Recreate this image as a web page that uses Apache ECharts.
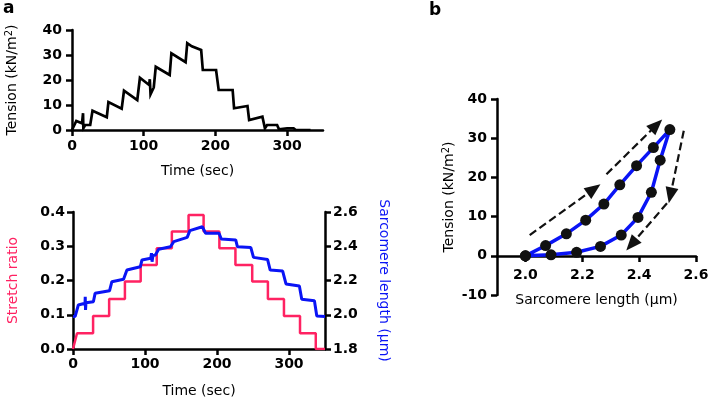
<!DOCTYPE html>
<html>
<head>
<meta charset="utf-8">
<script src="https://cdn.jsdelivr.net/npm/echarts@6/dist/echarts.min.js"></script>
<style>
  html, body { margin: 0; padding: 0; background: #fff; }
  #chart { width: 722px; height: 405px; }
</style>
</head>
<body>
<div id="chart"></div>
<script>
// panel a, top: tension trace
var tensionTime = [0, 2, 6, 14, 15.4, 15.8, 18.4, 25.4, 28.6, 48.5, 50.8, 69.3, 72.5, 91, 94.7, 107.6, 108.5, 109.5, 114, 116.8, 136.2, 138.6, 158.4, 160.7, 167, 180.1, 182.4, 200.9, 204.5, 224, 226, 244.7, 247, 265.5, 269, 272, 286, 288.6, 300, 309, 312, 332.6];
var tensionValue = [0, 0, 3.6, 2.7, 6.7, 0.7, 2, 2, 7.7, 5.1, 11.2, 8.5, 15.7, 12, 20.9, 18, 20.3, 14.3, 17, 25.3, 22, 30.7, 27.1, 34.7, 33.5, 32, 24, 24, 16, 16, 8.7, 9.6, 4, 5.3, 0.7, 2, 2, 0.3, 0.7, 0.7, 0, 0];

// panel a, bottom: stretch ratio (left axis)
var stretchTime = [0, 5.6, 27.9, 27.9, 50.2, 50.2, 72.1, 72.1, 94, 94, 116.3, 116.3, 137.3, 137.3, 160.5, 160.5, 181.4, 181.4, 203.3, 203.3, 225.6, 225.6, 248.9, 248.9, 270.7, 270.7, 293, 293, 315.3, 315.3, 337.2, 337.2, 350];
var stretchValue = [0, 0.046, 0.046, 0.096, 0.096, 0.146, 0.146, 0.197, 0.197, 0.245, 0.245, 0.294, 0.294, 0.343, 0.343, 0.391, 0.391, 0.343, 0.343, 0.294, 0.294, 0.245, 0.245, 0.197, 0.197, 0.146, 0.146, 0.096, 0.096, 0.046, 0.046, 0, 0];

// panel a, bottom: sarcomere length (right axis)
var sarcTime = [0, 3, 7.4, 16.7, 17, 17.4, 18, 28.3, 30.7, 50.7, 54, 70.2, 74.9, 93.5, 95.8, 108, 109, 109.8, 111, 114.4, 119, 135.3, 140, 158.6, 162.3, 179.6, 184.2, 202.8, 206, 226, 228.4, 247, 250.7, 270.2, 273.9, 291.2, 295.8, 314.4, 317.7, 335.3, 338.6, 350];
var sarcLength = [1.99, 1.99, 2.057, 2.067, 2.105, 2.028, 2.07, 2.076, 2.125, 2.14, 2.193, 2.207, 2.261, 2.28, 2.32, 2.33, 2.36, 2.31, 2.345, 2.349, 2.382, 2.397, 2.427, 2.452, 2.491, 2.514, 2.476, 2.476, 2.442, 2.437, 2.397, 2.392, 2.335, 2.323, 2.261, 2.255, 2.18, 2.168, 2.09, 2.082, 1.993, 1.99];

// panel b: tension vs sarcomere length loop
var loopLength = [2.0, 2.071, 2.144, 2.212, 2.276, 2.332, 2.391, 2.45, 2.508, 2.474, 2.443, 2.396, 2.337, 2.264, 2.18, 2.09, 2.0];
var loopTension = [0, 2.6, 5.6, 9.1, 13.2, 18.1, 23.0, 27.6, 32.2, 24.4, 16.2, 9.8, 5.3, 2.4, 0.9, 0.25, 0];

// panel b: dashed direction arrows (start / head centre in data units)
var arrowFrom = [[2.015, 5.3], [2.285, 20.8], [2.557, 31.9], [2.498, 13.4]];
var arrowTo = [[2.241, 17.05], [2.461, 33.36], [2.51, 15.39], [2.373, 2.89]];

var timeTicks = [0, 100, 200, 300];
var lengthTicks = [2.0, 2.2, 2.4, 2.6];

function zip(a, b) {
  return a.map(function (v, i) { return [v, b[i]]; });
}

var FONT = 'DejaVu Sans';
var PINK = '#ff2262';
var BLUE = '#0a14f5';

function baseAxis(extra) {
  var ax = {
    type: 'value',
    splitLine: { show: false },
    axisLine: { show: true, onZero: false, lineStyle: { color: '#000', width: 2.5 } },
    axisTick: { show: true, length: 6, lineStyle: { color: '#000', width: 2.5 } },
    axisLabel: { color: '#000', fontSize: 14, fontWeight: 'bold', fontFamily: FONT, margin: 10 },
    nameLocation: 'middle',
    nameTextStyle: { color: '#000', fontSize: 14, fontFamily: FONT }
  };
  for (var k in extra) {
    if (typeof extra[k] === 'object' && !Array.isArray(extra[k]) && ax[k]) {
      for (var j in extra[k]) ax[k][j] = extra[k][j];
    } else {
      ax[k] = extra[k];
    }
  }
  return ax;
}

var tensionRich = {
  n: { fontSize: 14, fontFamily: FONT, color: '#000', lineHeight: 16 },
  s: { fontSize: 10, fontFamily: FONT, color: '#000', verticalAlign: 'top', lineHeight: 10 }
};
var tensionName = '{n|Tension (kN/m}{s|2}{n|)}';

var myChart = echarts.init(document.getElementById('chart'));
var option = {
  animation: false,
  backgroundColor: '#fff',
  grid: [
    { left: 72, top: 30, width: 251, height: 100 },
    { left: 73, top: 212, width: 252, height: 137 },
    { left: 497, top: 99, width: 199, height: 196 }
  ],
  graphic: [
    { type: 'text', left: 3, top: 0, style: { text: 'a', font: 'bold 17px ' + FONT, fill: '#000' } },
    { type: 'text', left: 429, top: 2, style: { text: 'b', font: 'bold 17px ' + FONT, fill: '#000' } }
  ],
  xAxis: [
    baseAxis({
      gridIndex: 0, min: 0, max: 350,
      name: 'Time (sec)', nameGap: 34,
      axisTick: { customValues: timeTicks },
      axisLabel: { customValues: timeTicks, margin: 9 }
    }),
    baseAxis({
      gridIndex: 1, min: 0, max: 350,
      name: 'Time (sec)', nameGap: 35,
      axisTick: { customValues: timeTicks },
      axisLabel: { customValues: timeTicks, margin: 8 }
    }),
    baseAxis({
      gridIndex: 2, min: 1.9, max: 2.6,
      offset: -39,
      name: 'Sarcomere length (\u03bcm)', nameGap: 37,
      axisTick: { customValues: lengthTicks },
      axisLabel: { customValues: lengthTicks, margin: 12, formatter: function (v) { return v.toFixed(1); } }
    })
  ],
  yAxis: [
    baseAxis({
      gridIndex: 0, min: 0, max: 40, interval: 10,
      name: tensionName, nameGap: 52,
      nameTextStyle: { rich: tensionRich }
    }),
    baseAxis({
      gridIndex: 1, min: 0, max: 0.4, interval: 0.1,
      name: 'Stretch ratio', nameGap: 53,
      nameTextStyle: { color: PINK },
      axisLabel: { margin: 8, formatter: function (v) { return v.toFixed(1); } }
    }),
    baseAxis({
      gridIndex: 1, position: 'right', min: 1.8, max: 2.6, interval: 0.2,
      name: 'Sarcomere length (\u03bcm)', nameGap: 52, nameRotate: -90,
      nameTextStyle: { color: BLUE },
      axisLabel: { margin: 8, formatter: function (v) { return v.toFixed(1); } }
    }),
    baseAxis({
      gridIndex: 2, min: -10, max: 40, interval: 10,
      name: tensionName, nameGap: 40,
      nameTextStyle: { rich: tensionRich }
    })
  ],
  series: [
    {
      type: 'line', xAxisIndex: 0, yAxisIndex: 0,
      data: zip(tensionTime, tensionValue),
      showSymbol: false, symbol: 'none',
      lineStyle: { color: '#000', width: 2.7, join: 'miter' }
    },
    {
      type: 'line', xAxisIndex: 1, yAxisIndex: 1,
      data: zip(stretchTime, stretchValue),
      showSymbol: false, symbol: 'none',
      lineStyle: { color: PINK, width: 2.5 }
    },
    {
      type: 'line', xAxisIndex: 1, yAxisIndex: 2,
      data: zip(sarcTime, sarcLength),
      showSymbol: false, symbol: 'none',
      lineStyle: { color: BLUE, width: 3 }
    },
    {
      type: 'line', xAxisIndex: 2, yAxisIndex: 3,
      data: zip(loopLength, loopTension),
      symbol: 'circle', symbolSize: 11,
      itemStyle: { color: '#111', borderWidth: 0 },
      lineStyle: { color: BLUE, width: 3.5 }
    },
    {
      type: 'lines', coordinateSystem: 'cartesian2d', xAxisIndex: 2, yAxisIndex: 3,
      polyline: false,
      symbol: 'none',
      lineStyle: { color: '#111', width: 2.2, type: [8, 4], opacity: 1, curveness: 0 },
      data: arrowFrom.map(function (p, i) { return { coords: [p, arrowTo[i]] }; })
    }
  ]
};
myChart.setOption(option);

// arrow heads: rotate each head along its dashed line (direction taken in pixels)
var finder = { xAxisIndex: 2, yAxisIndex: 3 };
var headData = arrowTo.map(function (p, i) {
  var a = myChart.convertToPixel(finder, arrowFrom[i]);
  var b = myChart.convertToPixel(finder, p);
  var ang = Math.atan2(a[1] - b[1], b[0] - a[0]) * 180 / Math.PI - 90;
  return { value: p, symbolRotate: ang };
});
myChart.setOption({
  series: option.series.concat([{
    type: 'scatter', xAxisIndex: 2, yAxisIndex: 3,
    symbol: 'triangle', symbolSize: [13, 16],
    itemStyle: { color: '#111', opacity: 1 },
    data: headData
  }])
});
</script>
</body>
</html>
